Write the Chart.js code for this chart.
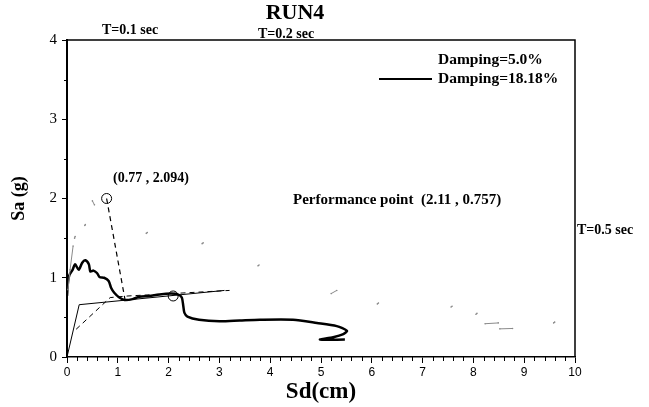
<!DOCTYPE html>
<html>
<head>
<meta charset="utf-8">
<script src="https://cdn.jsdelivr.net/npm/chart.js@4.4.1/dist/chart.umd.min.js"></script>
<style>
  html, body { margin: 0; padding: 0; background: #fff; }
  canvas { display: block; }
</style>
</head>
<body>
<canvas id="c" width="649" height="407"></canvas>
<script>
// ---- Data ----
const xTicks = [0, 1, 2, 3, 4, 5, 6, 7, 8, 9, 10];
const yTicks = [0, 1, 2, 3, 4];

// Demand spectrum, damping 18.18% (thick solid)
const d18X = [0.0, 0.02, 0.05, 0.11, 0.16, 0.23, 0.30, 0.36, 0.43, 0.46, 0.52, 0.59, 0.64, 0.73, 0.82, 0.87, 0.93, 1.03, 1.13, 1.29, 1.42, 1.62, 1.82, 2.05, 2.18, 2.26, 2.29, 2.31, 2.37, 2.60, 3.00, 3.40, 3.80, 4.45, 4.92, 5.31, 5.51, 5.44, 5.24, 4.98, 5.47];
const d18Y = [0.77, 0.95, 1.04, 1.10, 1.17, 1.10, 1.19, 1.22, 1.17, 1.08, 1.09, 1.06, 1.01, 1.00, 0.96, 0.87, 0.81, 0.75, 0.72, 0.73, 0.76, 0.77, 0.79, 0.80, 0.79, 0.75, 0.64, 0.56, 0.51, 0.47, 0.45, 0.46, 0.47, 0.47, 0.43, 0.39, 0.33, 0.29, 0.25, 0.22, 0.22];

// Demand spectrum, damping 5.0% (faint grey, only fragments visible); null = gap
const d5X = [0.02, 0.06, 0.12, null, 0.15, 0.16, null, 0.35, 0.36, null, 0.50, 0.54, null, 1.56, 1.58, null, 2.66, 2.68, null, 3.76, 3.78, null, 5.20, 5.31, null, 6.11, 6.13, null, 7.56, 7.58, null, 8.05, 8.07, null, 8.23, 8.49, null, 8.52, 8.77, null, 9.58, 9.60];
const d5Y = [0.85, 1.10, 1.40, null, 1.50, 1.52, null, 1.66, 1.67, null, 1.97, 1.92, null, 1.56, 1.57, null, 1.43, 1.44, null, 1.15, 1.16, null, 0.80, 0.84, null, 0.67, 0.68, null, 0.63, 0.64, null, 0.54, 0.55, null, 0.42, 0.43, null, 0.355, 0.36, null, 0.43, 0.44];

// Bilinear capacity spectrum (thin solid)
const capX = [0.0, 0.24, 3.10];
const capY = [0.0, 0.66, 0.84];

// Trial bilinear (dashed)
const trialX = [0.18, 0.85, 1.20, 3.20];
const trialY = [0.35, 0.75, 0.77, 0.84];

// Dashed drop from first trial point
const dropX = [0.78, 1.14];
const dropY = [2.00, 0.73];

// Marked points (circles)
const markX = [0.78, 2.09];
const markY = [2.00, 0.77];

const zip = (xs, ys) => xs.map((x, i) => ({ x: x, y: ys[i] }));

const SERIF = "'Liberation Serif', 'Times New Roman', serif";
const SANS = "'Liberation Sans', Arial, sans-serif";

const texts = [
  { t: 'RUN4', x: 295, y: 13, size: 22, align: 'center' },
  { t: 'T=0.1 sec', x: 102, y: 30, size: 14, align: 'left' },
  { t: 'T=0.2 sec', x: 258, y: 34, size: 14, align: 'left' },
  { t: '(0.77 , 2.094)', x: 113, y: 178, size: 14, align: 'left' },
  { t: 'Performance point  (2.11 , 0.757)', x: 293, y: 200, size: 15, align: 'left' },
  { t: 'T=0.5 sec', x: 577, y: 230, size: 14, align: 'left' },
  { t: 'Damping=5.0%', x: 438, y: 60, size: 15.5, align: 'left' },
  { t: 'Damping=18.18%', x: 438, y: 79, size: 15.5, align: 'left' }
];

const decor = {
  id: 'decor',
  afterDraw(chart) {
    const c = chart.ctx, a = chart.chartArea;
    const xs = chart.scales.x, ys = chart.scales.y;
    c.save();
    // frame top/right
    c.strokeStyle = '#000';
    c.lineWidth = 1.5;
    c.beginPath();
    c.moveTo(a.left, a.top); c.lineTo(a.right, a.top); c.lineTo(a.right, a.bottom);
    c.stroke();
    // minor ticks
    c.lineWidth = 1;
    c.beginPath();
    for (let i = 1; i < 50; i++) {
      if (i % 5 === 0) continue;
      const px = Math.round(xs.getPixelForValue(i * 0.2)) + 0.5;
      c.moveTo(px, a.bottom); c.lineTo(px, a.bottom + 4);
    }
    for (let v = 0.5; v < 4; v += 1) {
      const py = Math.round(ys.getPixelForValue(v)) + 0.5;
      c.moveTo(a.left - 3, py); c.lineTo(a.left, py);
    }
    c.stroke();
    // legend sample line
    c.lineWidth = 2;
    c.beginPath();
    c.moveTo(379, 79); c.lineTo(432, 79);
    c.stroke();
    // texts
    c.fillStyle = '#000';
    c.textBaseline = 'middle';
    for (const t of texts) {
      c.font = 'bold ' + t.size + 'px ' + SERIF;
      c.textAlign = t.align;
      c.fillText(t.t, t.x, t.y);
    }
    c.restore();
  }
};

new Chart(document.getElementById('c'), {
  type: 'scatter',
  data: {
    datasets: [
      { label: 'Damping=5.0%', data: zip(d5X, d5Y), showLine: true, spanGaps: false,
        borderColor: '#8a8a8a', borderWidth: 1, pointRadius: 0.8, pointBackgroundColor: '#8a8a8a', pointBorderWidth: 0 },
      { label: 'Capacity', data: zip(capX, capY), showLine: true, borderColor: '#000', borderWidth: 1, pointRadius: 0 },
      { label: 'Trial', data: zip(trialX, trialY), showLine: true, borderColor: '#000', borderWidth: 1, borderDash: [5, 4], pointRadius: 0 },
      { label: 'Drop', data: zip(dropX, dropY), showLine: true, borderColor: '#000', borderWidth: 1.2, borderDash: [5, 4], pointRadius: 0 },
      { label: 'Damping=18.18%', data: zip(d18X, d18Y), showLine: true, borderColor: '#000', borderWidth: 2.5, pointRadius: 0, tension: 0.25 },
      { label: 'Points', data: zip(markX, markY), showLine: false, pointStyle: 'circle', pointRadius: 5,
        pointBorderColor: '#000', pointBackgroundColor: 'rgba(0,0,0,0)', pointBorderWidth: 1 }
    ]
  },
  options: {
    responsive: false,
    animation: false,
    events: [],
    layout: { padding: { left: 0, right: 74, top: 40, bottom: 0 } },
    plugins: { legend: { display: false }, tooltip: { enabled: false }, title: { display: false } },
    scales: {
      x: {
        type: 'linear', min: 0, max: 10,
        afterBuildTicks: s => { s.ticks = xTicks.map(v => ({ value: v })); },
        ticks: { color: '#000', font: { family: SANS, size: 12 }, padding: 2, maxRotation: 0 },
        grid: { drawOnChartArea: false, drawTicks: true, tickLength: 6, color: '#000', tickWidth: 1 },
        border: { color: '#000', width: 1.5 },
        title: { display: true, text: 'Sd(cm)', color: '#000', font: { family: SERIF, size: 23, weight: 'bold' }, padding: { top: 0, bottom: 1 } },
        afterFit: s => { s.height = 50; }
      },
      y: {
        type: 'linear', min: 0, max: 4,
        afterBuildTicks: s => { s.ticks = yTicks.map(v => ({ value: v })); },
        ticks: { color: '#000', font: { family: SERIF, size: 15 }, padding: 5 },
        grid: { drawOnChartArea: false, drawTicks: true, tickLength: 5, color: '#000', tickWidth: 1 },
        border: { color: '#000', width: 2 },
        title: { display: true, text: 'Sa (g)', color: '#000', font: { family: SERIF, size: 18, weight: 'bold' }, padding: { top: 9, bottom: 9 } },
        afterFit: s => { s.width = 67; }
      }
    }
  },
  plugins: [decor]
});
</script>
</body>
</html>
